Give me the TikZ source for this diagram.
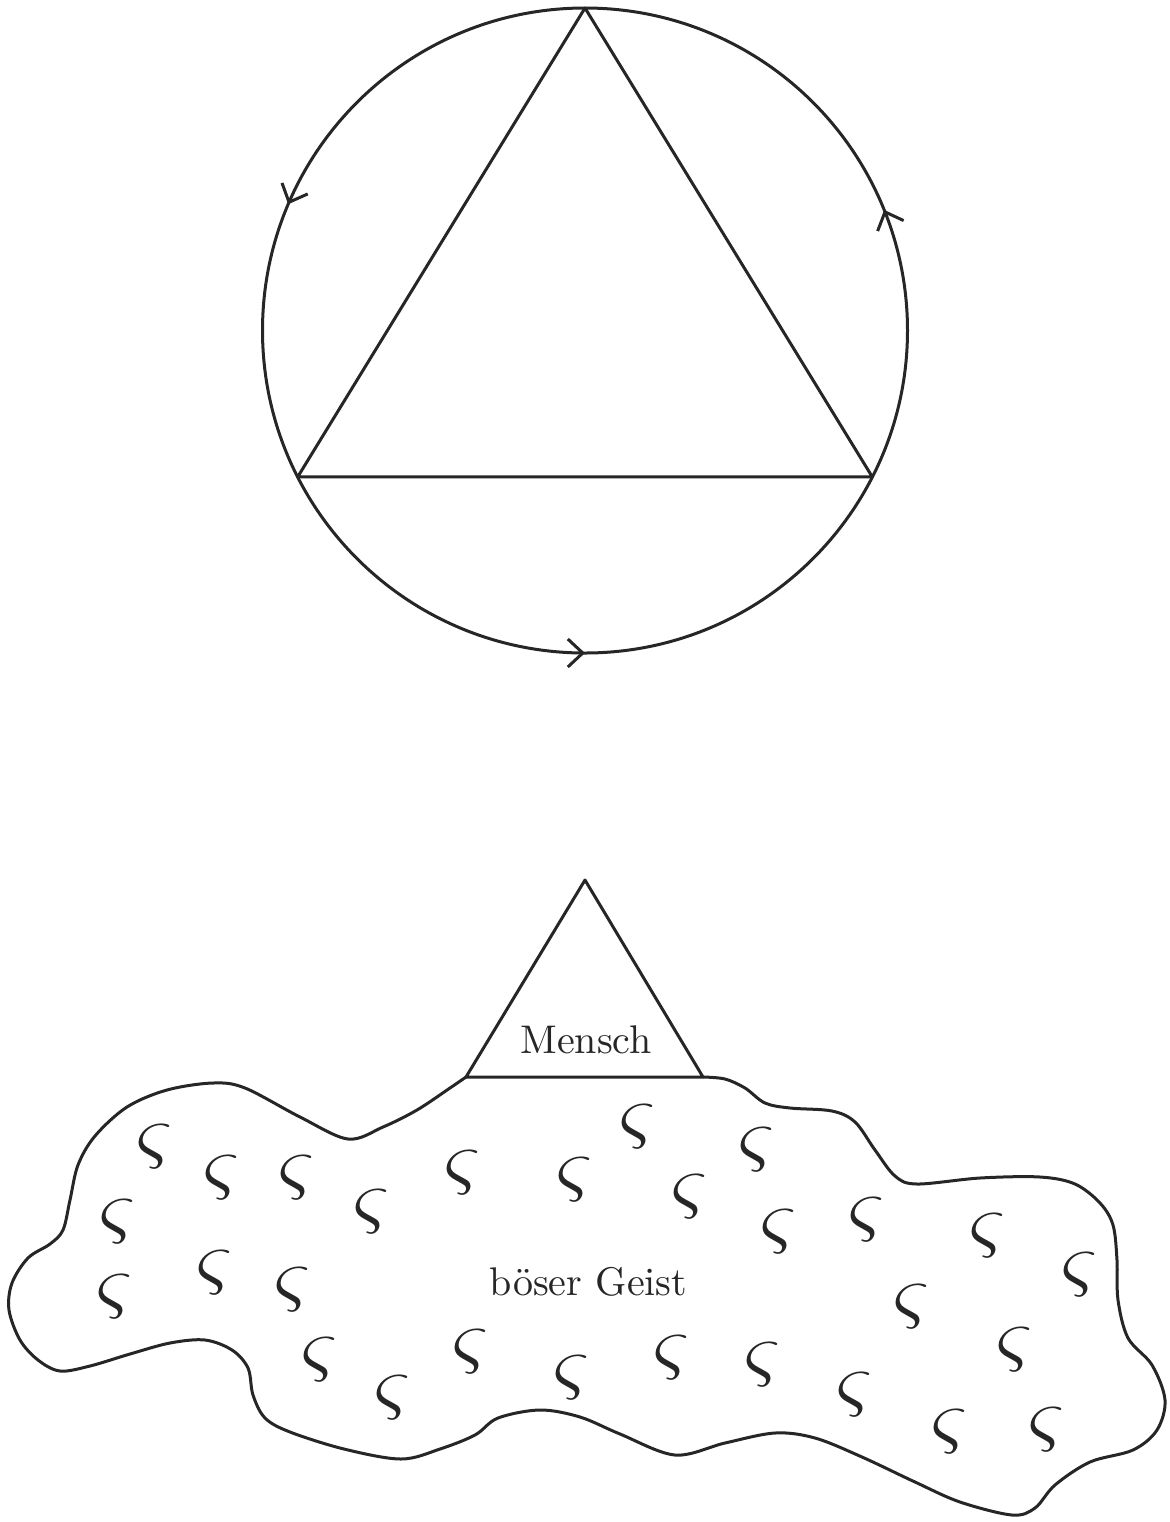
\documentclass[tikz,border=0pt]{standalone}
\usetikzlibrary{decorations.markings,arrows.meta}
\tikzset{mytip/.tip={Straight Barb[length=3.75pt,width=7pt]}}
\begin{document}
\begin{tikzpicture}[x=0.25pt,y=-0.25pt,color=black!85,line width=0.75pt,line join=round,
  sign/.style={font=\fontsize{20}{24}\selectfont,inner sep=0pt},
  label/.style={anchor=base,inner sep=0pt},
  flow/.style={postaction={decorate},decoration={markings,
    mark=at position 0.25 with {\arrowreversed{mytip}},
    mark=at position 0.564 with {\arrowreversed{mytip}},
    mark=at position 0.939 with {\arrowreversed{mytip}}}}]
\useasboundingbox (0,0) rectangle (1169,1522);
% upper figure
\coordinate (O) at (585,330.5);
\coordinate (T) at (585,8);
\coordinate (L) at (297.7,476.9);
\coordinate (R) at (872.3,476.9);
\draw[flow] (O) circle[radius=322.5];
\draw (T) -- (L) -- (R) -- cycle;
% lower figure
\coordinate (t) at (585,880);
\coordinate (l) at (466,1077);
\coordinate (r) at (703,1077);
\draw (t) -- (l) -- (r) -- cycle;
\draw plot[smooth,tension=0.55] coordinates {
 (r) (725,1079) (745,1088) (765,1103) (790,1108) (832,1111) (855,1122) (875,1150)
 (895,1176) (917,1184) (980,1178) (1040,1177) (1075,1184) (1100,1203) (1113,1225)
 (1117,1260) (1118,1300) (1128,1338) (1152,1365) (1165,1400) (1157,1430) (1133,1450)
 (1090,1462) (1055,1485) (1035,1508) (1012,1515) (960,1502) (915,1482) (862,1457)
 (815,1438) (775,1433) (725,1443) (675,1455) (620,1434) (580,1417) (540,1410)
 (498,1418) (475,1435) (440,1449) (401,1459) (344,1449) (290,1432) (265,1418)
 (253,1395) (248,1368) (232,1350) (205,1340) (170,1343) (130,1354) (90,1366)
 (60,1371) (38,1360) (20,1340) (9,1310) (12,1283) (28,1258) (50,1244) (63,1230)
 (70,1200) (78,1165) (95,1136) (127,1107) (167,1090) (213,1083) (245,1088)
 (300,1117) (348,1139) (383,1127) (417,1110) (450,1088) (l)};
\node[label] (mensch) at (586,1053) {Mensch};
\node[label] (geist) at (588.5,1295) {böser Geist};
\foreach \x/\y [count=\i] in {155/1147,222/1178,297/1178,372/1212,463/1173,575/1180,
  638/1127,690/1197,757/1150,779/1232,867/1220,988/1236,1080/1275,912/1307,
  118/1222,115/1297,215/1273,293/1290,320/1360,393/1398,471/1352,572/1378,
  672/1358,763/1365,855/1395,1015/1350,950/1432,1047/1430}
  \node[sign] (s\i) at (\x,\y) {$\varsigma$};
\end{tikzpicture}
\end{document}
